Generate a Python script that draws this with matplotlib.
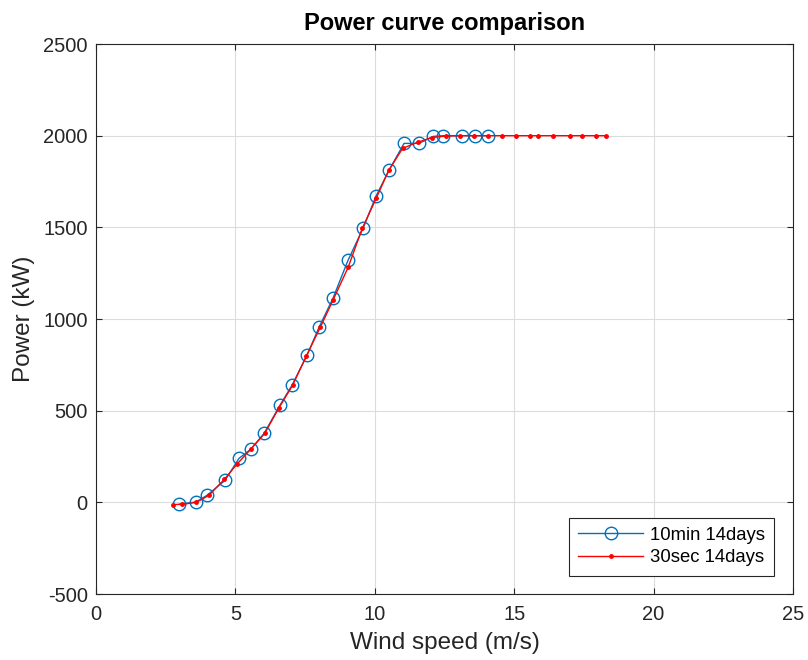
import numpy as np
import matplotlib.pyplot as plt

plt.rcParams['font.family'] = ['Liberation Sans', 'DejaVu Sans']
plt.rcParams['axes.unicode_minus'] = False

# 10 min averages (bins)
ws_10min = [2.98, 3.59, 3.98, 4.63, 5.13, 5.56, 6.03, 6.60, 7.03, 7.57, 8.00, 8.50,
            9.04, 9.58, 10.04, 10.51, 11.05, 11.59, 12.09, 12.45, 13.13, 13.60, 14.06]
p_10min = [-10, 2, 38, 120, 240, 290, 376, 530, 638, 802, 955, 1113,
           1320, 1495, 1669, 1811, 1958, 1958, 1996, 2000, 2000, 2000, 2000]

# 30 sec averages (bins)
ws_30sec = [2.75, 3.1, 3.6, 4.05, 4.6, 5.05, 5.55, 6.05, 6.55, 7.05, 7.55, 8.05, 8.5,
            9.05, 9.55, 10.05, 10.5, 11.0, 11.55, 12.05, 12.55, 13.05, 13.55, 14.05,
            14.58, 15.05, 15.57, 15.87, 16.4, 17.0, 17.42, 17.93, 18.29]
p_30sec = [-12, -11, 0, 38, 125, 207, 290, 376, 512, 638, 800, 956, 1102,
           1284, 1494, 1658, 1811, 1931, 1965, 1990, 1998, 2000, 2000, 2000,
           2000, 2000, 2000, 2000, 2000, 2000, 2000, 2000, 2000]

fig = plt.figure(figsize=(8.08, 6.6), dpi=100)
ax = fig.add_axes([0.1188, 0.1, 0.8626, 0.8333])

ax.plot(ws_10min, p_10min, '-o', color='#0072BD', mfc='none', ms=9, mew=1.0,
        lw=1.0, label='10min 14days')
ax.plot(ws_30sec, p_30sec, '-o', color='red', ms=2.5, lw=1.0, label='30sec 14days')

ax.set_xlim(0, 25)
ax.set_ylim(-500, 2500)
ax.set_xticks(np.arange(0, 26, 5))
ax.set_yticks(np.arange(-500, 2501, 500))
ax.grid(True, color='#dcdcdc', lw=0.8)
ax.set_axisbelow(True)
ax.tick_params(direction='in', top=True, right=True, labelsize=14.5, colors='#262626',
               length=4, pad=6)
ax.tick_params(axis='x', pad=8)
for s in ax.spines.values():
    s.set_color('#262626')
    s.set_linewidth(0.8)

ax.set_xlabel('Wind speed (m/s)', fontsize=17.5, color='#262626', labelpad=6)
ax.set_ylabel('Power (kW)', fontsize=17.5, color='#262626', labelpad=6)
ax.set_title('Power curve comparison', fontsize=17, fontweight='bold', pad=10)

leg = ax.legend(loc='lower right', fontsize=13.3, fancybox=False, edgecolor='#262626',
                framealpha=1, borderaxespad=1.0, handlelength=3.5, borderpad=0.5,
                labelspacing=0.3, handletextpad=0.4)
leg.get_frame().set_linewidth(0.8)

fig.savefig('out.png', dpi=100)
